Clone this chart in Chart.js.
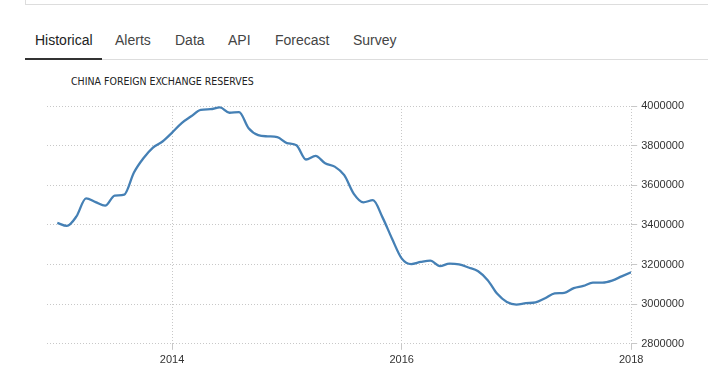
<!DOCTYPE html>
<html>
<head>
<meta charset="utf-8">
<script src="https://cdn.jsdelivr.net/npm/chart.js@4/dist/chart.umd.min.js"></script>
<style>
  html, body { margin: 0; padding: 0; background: #fff; width: 708px; height: 380px; overflow: hidden; }
  .topbox { position: absolute; left: 25px; top: 0; width: 700px; height: 4px; border-left: 1px solid #ddd; border-bottom: 1px solid #ddd; }
  .tabs { position: absolute; left: 25px; top: 0; width: 700px; height: 59px; border-bottom: 1px solid #ddd; }
  .tab { position: absolute; top: 32px; font: 14px "Liberation Sans", Arial, sans-serif; color: #444; white-space: nowrap; }
  .tab.active { color: #222; }
  .underline { position: absolute; left: 25px; top: 58px; width: 77px; height: 2px; background: #333; }
  .title { position: absolute; left: 71px; top: 75px; font: 10.5px "DejaVu Sans Condensed", "DejaVu Sans", sans-serif; color: #222; white-space: nowrap; }
  #wrap { position: absolute; left: 0; top: 80px; width: 708px; height: 300px; }
</style>
</head>
<body>
<div class="topbox"></div>
<div class="tabs"></div>
<div class="tab active" style="left:35px">Historical</div>
<div class="tab" style="left:115px">Alerts</div>
<div class="tab" style="left:175px">Data</div>
<div class="tab" style="left:228px">API</div>
<div class="tab" style="left:275px">Forecast</div>
<div class="tab" style="left:353px">Survey</div>
<div class="underline"></div>
<div class="title">CHINA FOREIGN EXCHANGE RESERVES</div>
<div id="wrap"><canvas id="c" width="708" height="300"></canvas></div>
<script>
// Monthly values, Jan 2013 .. Jan 2018 (USD million)
const startYear = 2013;
const reserves = [
  3410000, 3395000, 3443000, 3534000, 3515000, 3497000, 3548000, 3553000, 3663000, 3736000, 3790000, 3821000,
  3866000, 3914000, 3948000, 3981000, 3984000, 3993000, 3966000, 3969000, 3888000, 3853000, 3847000, 3843000,
  3813000, 3802000, 3730000, 3748000, 3711000, 3694000, 3651000, 3557000, 3514000, 3525000, 3438000, 3330000,
  3231000, 3202000, 3213000, 3220000, 3192000, 3205000, 3201000, 3185000, 3166000, 3121000, 3052000, 3011000,
  2998000, 3005000, 3009000, 3030000, 3054000, 3057000, 3081000, 3092000, 3109000, 3109000, 3119000, 3140000,
  3161000
];
const xTicks = [2014, 2016, 2018];
const yTicks = [2800000, 3000000, 3200000, 3400000, 3600000, 3800000, 4000000];

const points = reserves.map((v, i) => ({ x: startYear + i / 12, y: v }));

new Chart(document.getElementById('c'), {
  type: 'line',
  data: {
    datasets: [{
      data: points,
      borderColor: '#4580b5',
      borderWidth: 2.3,
      pointRadius: 0,
      fill: false,
      tension: 0.4,
      cubicInterpolationMode: 'monotone'
    }]
  },
  options: {
    responsive: false,
    animation: false,
    layout: { padding: { left: 47, top: 26, right: 20, bottom: 9 } },
    plugins: { legend: { display: false }, tooltip: { enabled: false }, title: { display: false } },
    scales: {
      x: {
        type: 'linear',
        min: 2012.91,
        max: 2018,
        afterBuildTicks: s => { s.ticks = xTicks.map(v => ({ value: v })); },
        grid: { color: '#c8c8c8', drawTicks: true, tickLength: 6, lineWidth: 1 },
        border: { display: false, dash: [1, 2] },
        ticks: {
          color: '#333', font: { family: 'Liberation Sans', size: 11 },
          maxRotation: 0, padding: 4,
          callback: v => String(v)
        }
      },
      y: {
        position: 'right',
        min: 2800000,
        max: 4000000,
        afterBuildTicks: s => { s.ticks = yTicks.map(v => ({ value: v })); },
        grid: { color: '#c8c8c8', drawTicks: true, tickLength: 6, lineWidth: 1 },
        border: { display: false, dash: [1, 2] },
        ticks: {
          color: '#333', font: { family: 'Liberation Sans', size: 11 },
          padding: 4,
          callback: v => String(v)
        }
      }
    }
  }
});
</script>
</body>
</html>
